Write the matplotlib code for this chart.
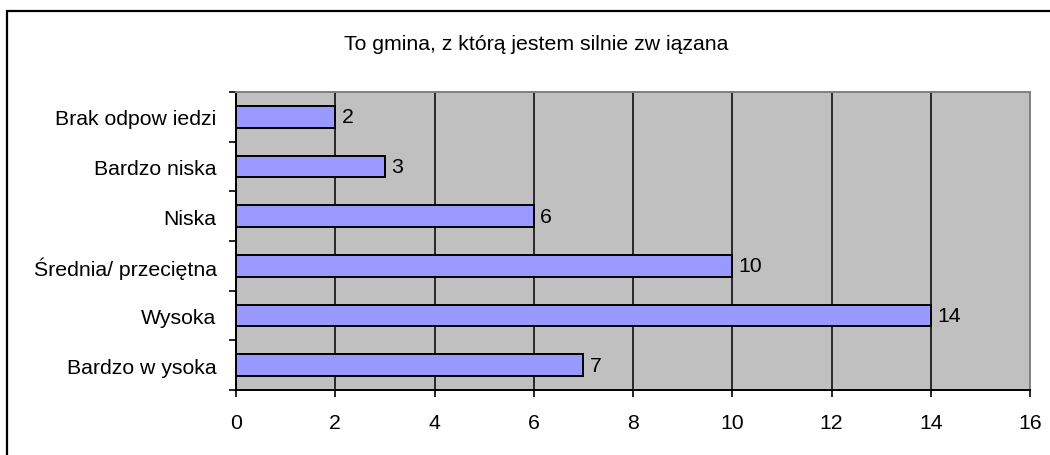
import matplotlib
matplotlib.use("Agg")
import matplotlib.pyplot as plt
from matplotlib.patches import Rectangle
import numpy as np

plt.rcParams['font.family'] = ['Liberation Sans', 'DejaVu Sans']

title = "To gmina, z którą jestem silnie zw iązana"
categories = ["Brak odpow iedzi", "Bardzo niska", "Niska",
              "Średnia/ przeciętna", "Wysoka", "Bardzo w ysoka"]
values = [2, 3, 6, 10, 14, 7]
x_ticks = [0, 2, 4, 6, 8, 10, 12, 14, 16]

FS = 15.3
W, H = 1050, 456
fig = plt.figure(figsize=(W / 100, H / 100), dpi=100)

# outer chart frame (runs past the right and bottom edges)
frame = Rectangle((7 / W, -0.05), 1.2, (H - 12) / H + 0.05,
                  transform=fig.transFigure, fill=False,
                  edgecolor='black', linewidth=1.6, clip_on=False)
fig.patches.append(frame)

left, right, top, bottom = 236, 1030, 93, 391
ax = fig.add_axes([left / W, (H - bottom) / H, (right - left) / W, (bottom - top) / H])
ax.set_facecolor('#C0C0C0')

y = np.arange(len(categories))
ax.barh(y, values, height=0.44, color='#9999FF', edgecolor='black',
        linewidth=1.4, zorder=3)
for yi, v in zip(y, values):
    ax.text(v + 0.13, yi, f"{v}", va='center', ha='left', fontsize=FS, zorder=4)

ax.set_xlim(0, 16)
ax.set_ylim(len(categories) - 0.5, -0.5)
ax.set_xticks(x_ticks)
ax.set_xticklabels([str(t) for t in x_ticks], fontsize=FS)
ax.xaxis.grid(True, color='black', linewidth=1.1, zorder=1)
ax.set_axisbelow(True)
ax.tick_params(axis='x', length=5, width=1.2, direction='out', pad=11.5)

# category boundaries carry the tick marks; centres carry the labels
ax.set_yticks(np.arange(-0.5, len(categories), 1.0))
ax.set_yticklabels([])
ax.set_yticks(y, minor=True)
ax.set_yticklabels(categories, minor=True, fontsize=FS)
ax.tick_params(axis='y', which='major', length=5, width=1.2, direction='out')
ax.tick_params(axis='y', which='minor', length=0, pad=14)

for s in ('left', 'bottom'):
    ax.spines[s].set_color('black')
    ax.spines[s].set_linewidth(1.4)
for s in ('top', 'right'):
    ax.spines[s].set_color('#808080')
    ax.spines[s].set_linewidth(1.4)

fig.text(536 / W, 1 - 44 / H, title, ha='center', va='center', fontsize=FS)

fig.savefig("out.png", dpi=100)
